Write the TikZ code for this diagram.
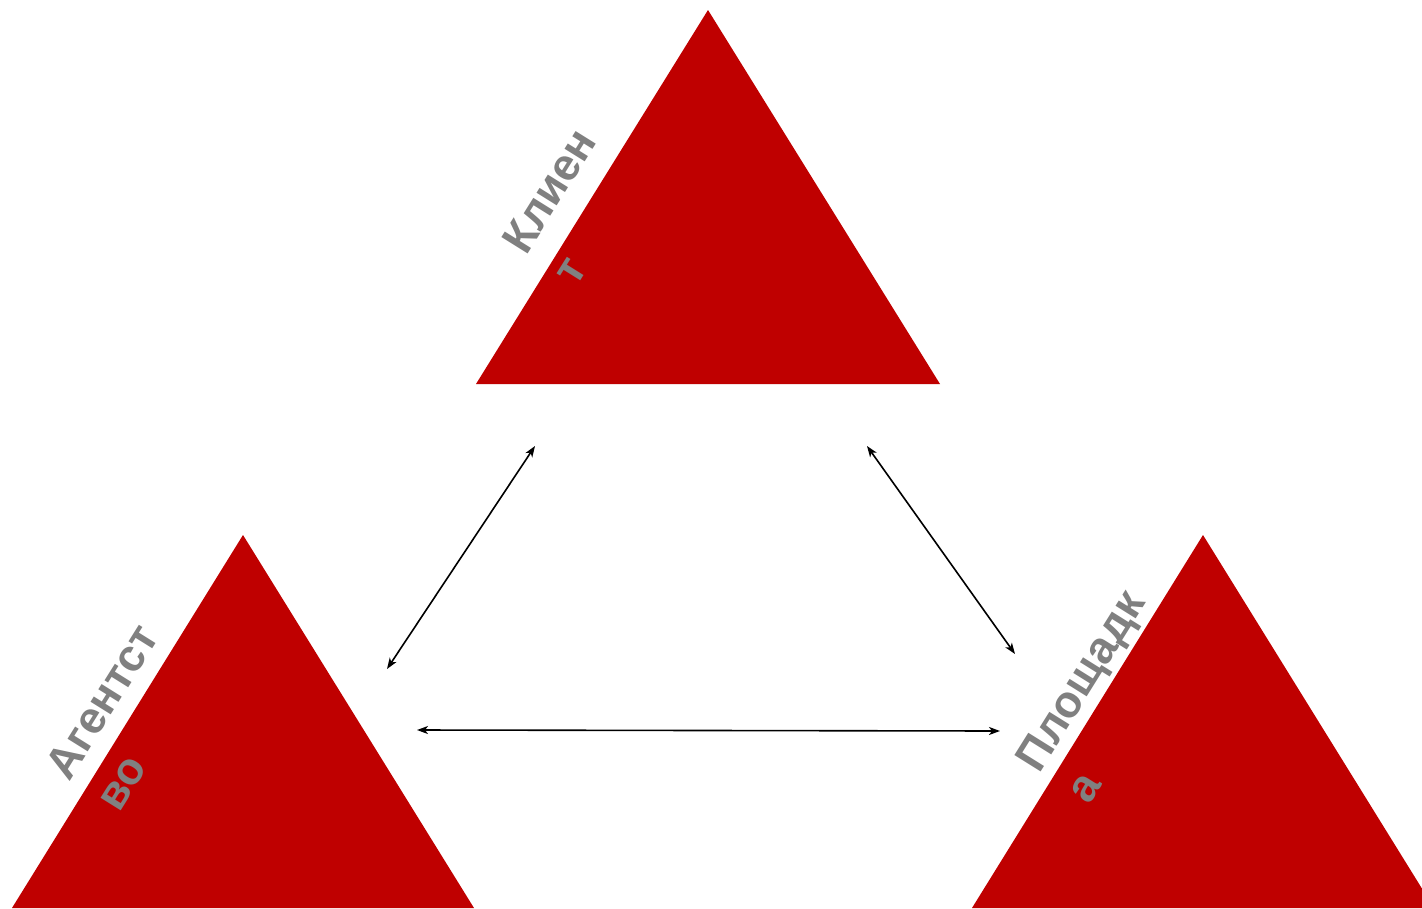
\documentclass[tikz,border=0pt]{standalone}
\usepackage{fontspec}
\setmainfont{Liberation Sans}
\usetikzlibrary{arrows.meta}
\definecolor{tri}{HTML}{BF0000}
\definecolor{lbl}{HTML}{808080}
\tikzset{
  tri/.style={fill=tri, draw=none},
  lbl/.style={text=lbl, font=\fontsize{45}{59}\selectfont\bfseries, rotate=58, align=left, inner sep=0pt, anchor=center},
  link/.style={draw=black, line width=1.6pt, {Stealth[length=11pt,width=8pt,inset=3pt]}-{Stealth[length=11pt,width=8pt,inset=3pt]}}
}
\begin{document}
\begin{tikzpicture}[x=1pt,y=-1pt]
\useasboundingbox (0,0) rectangle (1422,908);
\fill[white] (0,0) rectangle (1422,908);
% triangles
\path[tri] (708,10) -- (940,384) -- (476,384) -- cycle;
\path[tri] (243,535) -- (474,908) -- (12,908) -- cycle;
\begin{scope}
\clip (0,0) rectangle (1422,908);
\path[tri] (1203,535) -- (1434,908) -- (972,908) -- cycle;
\end{scope}
% labels
\node[lbl] (klient) at (574,206) {Клиен\\т};
\node[lbl] (agent) at (127,717) {Агентст\\во};
\node[lbl] (plosh) at (1105,696) {Площадк\\а};
% arrow endpoints
\coordinate (kA) at (535,446);
\coordinate (aK) at (387,669);
\coordinate (kP) at (867,446);
\coordinate (pK) at (1015,654);
\coordinate (aP) at (417,730);
\coordinate (pA) at (1000,731);
\draw[link] (kA) -- (aK);
\draw[link] (kP) -- (pK);
\draw[link] (aP) -- (pA);
\end{tikzpicture}
\end{document}
